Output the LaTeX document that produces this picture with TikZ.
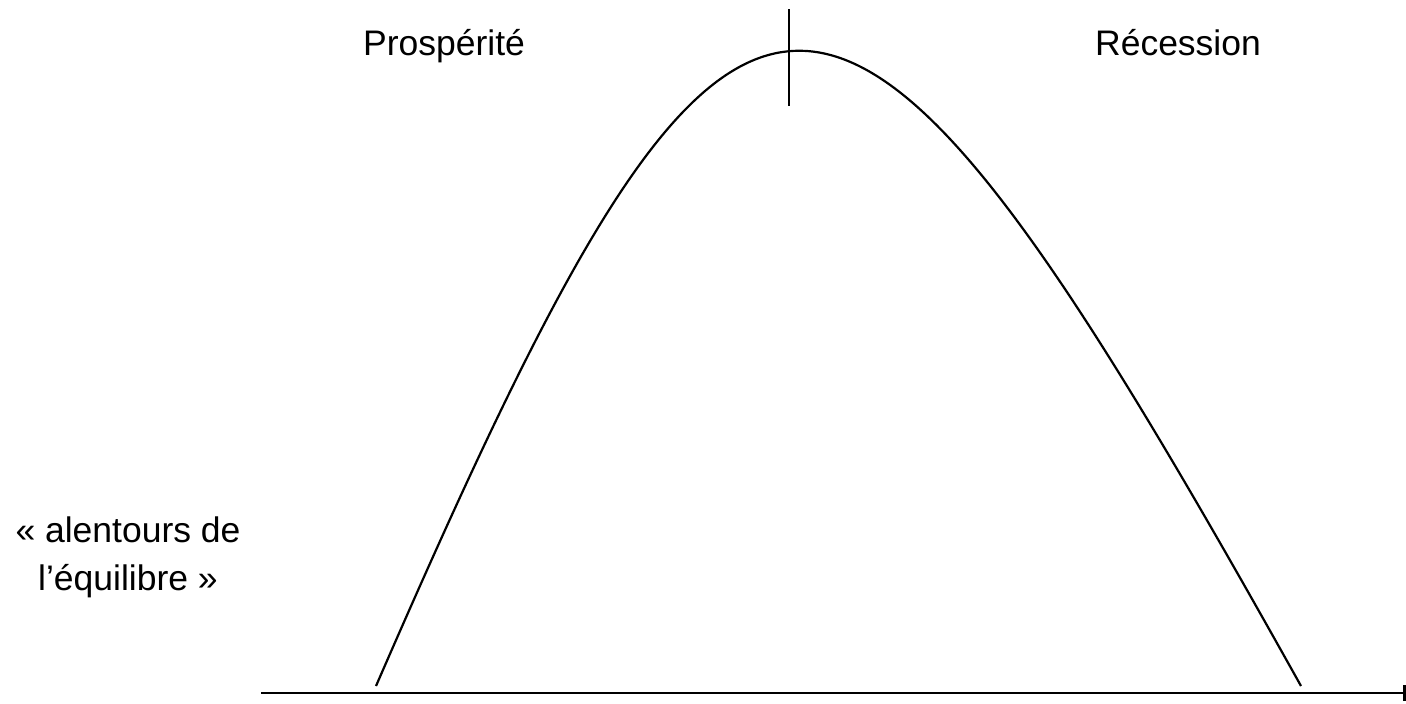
\documentclass[tikz,border=0pt]{standalone}
\usepackage{fontspec}
\setmainfont{Liberation Sans}
\begin{document}
\begin{tikzpicture}[x=1pt,y=-1pt,
  lbl/.style={inner sep=0pt,anchor=base,font=\fontsize{35.5}{42}\selectfont},
  axisline/.style={line width=2.6pt},
  curveline/.style={line width=2.2pt},
  markline/.style={line width=2.4pt}]
\useasboundingbox (0,0) rectangle (1406,704);
\coordinate (ax0) at (261,693);
\coordinate (ax1) at (1404,693);
\coordinate (tk0) at (1404.5,685);
\coordinate (tk1) at (1404.5,701);
\coordinate (c0) at (376,686);
\coordinate (c1) at (1301,686);
\coordinate (vm0) at (789,9);
\coordinate (vm1) at (789,106);
\draw[axisline] (ax0) -- (ax1);
\draw[axisline] (tk0) -- (tk1);
\draw[curveline] (c0) .. controls (744,-161) and (828,-161) .. (c1);
\draw[markline] (vm0) -- (vm1);
\node[lbl] (pros) at (444,55) {Prospérité};
\node[lbl] (rec) at (1178,55) {Récession};
\node[lbl] (al1) at (128,542) {« alentours de};
\node[lbl] (al2) at (128,590) {l’équilibre »};
\end{tikzpicture}
\end{document}
